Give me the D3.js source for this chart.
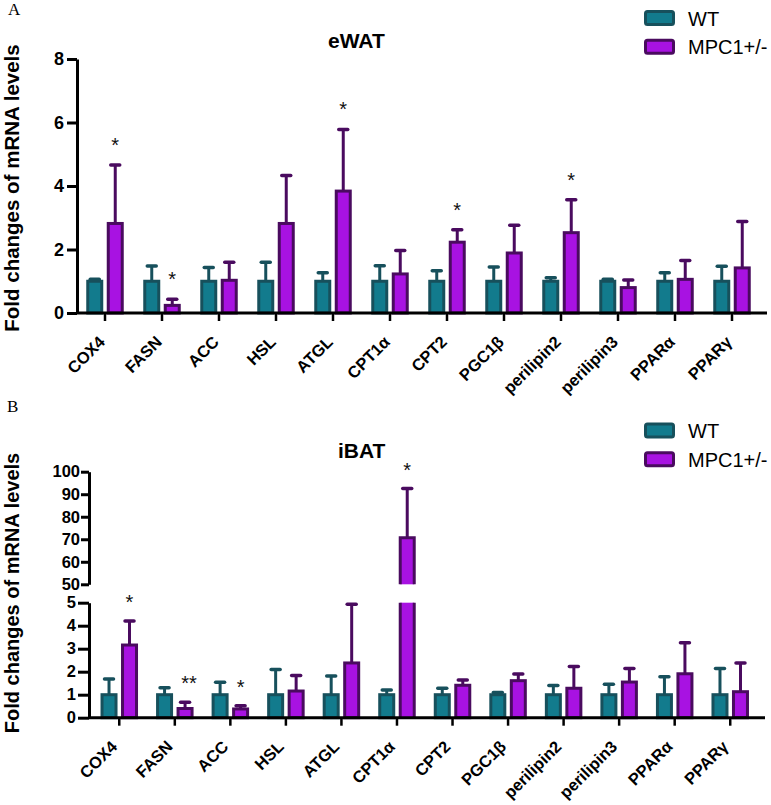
<!DOCTYPE html>
<html><head><meta charset="utf-8">
<script src="https://cdn.jsdelivr.net/npm/d3@7"></script>
<style>body{margin:0;background:#fff} svg{display:block}</style>
</head><body>
<svg id="c" width="771" height="805"></svg>
<script>
// ---------- data ----------
const categories = ["COX4","FASN","ACC","HSL","ATGL","CPT1α","CPT2","PGC1β","perilipin2","perilipin3","PPARα","PPARγ"];
const seriesNames = ["WT","MPC1+/-"];

const ewatWT      = [1.00,1.00,1.00,1.00,1.00,1.00,1.00,1.00,1.00,1.00,1.00,1.00];
const ewatWTErr   = [0.06,0.48,0.43,0.60,0.27,0.49,0.33,0.45,0.11,0.06,0.27,0.47];
const ewatMPC     = [2.82,0.24,1.03,2.82,3.84,1.23,2.23,1.89,2.53,0.80,1.06,1.42];
const ewatMPCErr  = [1.84,0.19,0.57,1.51,1.94,0.74,0.39,0.87,1.04,0.24,0.59,1.46];
const ewatStars   = ["*","*","","","*","","*","","*","","",""];
const ewatTicks   = [0,2,4,6,8];

const ibatWT      = [1.00,1.00,1.00,1.00,1.00,1.00,1.00,1.00,1.00,1.00,1.00,1.00];
const ibatWTErr   = [0.68,0.30,0.54,1.10,0.81,0.20,0.28,0.10,0.40,0.45,0.78,1.14];
const ibatMPC     = [3.16,0.40,0.38,1.16,2.38,70.7,1.41,1.61,1.28,1.55,1.91,1.13];
const ibatMPCErr  = [1.04,0.27,0.14,0.67,2.55,21.8,0.23,0.29,0.95,0.59,1.35,1.25];
const ibatStars   = ["*","**","*","","","*","","","","","",""];
const ibatLowTicks  = [0,1,2,3,4,5];
const ibatHighTicks = [50,60,70,80,90,100];

// ---------- style ----------
const fills   = {"WT":"#127b8d","MPC1+/-":"#a812e2"};
const strokes = {"WT":"#17505c","MPC1+/-":"#4a0b5f"};
const FONT = "'Liberation Sans', Arial, Helvetica, sans-serif";
const svg = d3.select("#c");

function panel(cfg){
  const g = svg.append("g");
  const x = d3.scaleBand().domain(categories).range(cfg.xRange);
  const xi = d3.scaleBand().domain(seriesNames).range([-20.5,20.5]);
  const bw = 14;
  const y = cfg.y;
  const rows = [];
  categories.forEach((c,i)=>{
    rows.push({c, s:"WT", v:cfg.wt[i], e:cfg.wtErr[i]});
    rows.push({c, s:"MPC1+/-", v:cfg.mpc[i], e:cfg.mpcErr[i], star:cfg.stars[i]});
  });
  const cx = d => x(d.c) + x.bandwidth()/2 + xi(d.s) + xi.bandwidth()/2;

  // error bars (upper only)
  const eb = g.append("g");
  eb.selectAll("line.v").data(rows).join("line")
    .attr("x1",cx).attr("x2",cx)
    .attr("y1",d=>y(d.v)).attr("y2",d=>y(d.v+d.e))
    .attr("stroke",d=>strokes[d.s]).attr("stroke-width",3);
  eb.selectAll("line.c").data(rows).join("line")
    .attr("x1",d=>cx(d)-4.5).attr("x2",d=>cx(d)+4.5)
    .attr("y1",d=>y(d.v+d.e)).attr("y2",d=>y(d.v+d.e))
    .attr("stroke",d=>strokes[d.s]).attr("stroke-width",3.5).attr("stroke-linecap","round");

  // bars
  const bars = g.append("g");
  rows.forEach(d=>{
    const x0 = cx(d)-bw/2, x1 = cx(d)+bw/2;
    if (cfg.broken && d.v > cfg.breakLow){
      bars.append("rect").attr("x",x0).attr("width",bw)
        .attr("y",y(cfg.breakLow)).attr("height",y(0)-y(cfg.breakLow)).attr("fill",fills[d.s]);
      bars.append("path").attr("d",`M${x0},${y(0)}V${y(cfg.breakLow)}M${x1},${y(0)}V${y(cfg.breakLow)}`)
        .attr("stroke",strokes[d.s]).attr("stroke-width",3).attr("fill","none");
      bars.append("rect").attr("x",x0).attr("width",bw)
        .attr("y",y(d.v)).attr("height",y(cfg.breakHigh)-y(d.v)).attr("fill",fills[d.s]);
      bars.append("path").attr("d",`M${x0},${y(cfg.breakHigh)}V${y(d.v)}H${x1}V${y(cfg.breakHigh)}`)
        .attr("stroke",strokes[d.s]).attr("stroke-width",3).attr("fill","none");
    } else {
      bars.append("rect").attr("x",x0).attr("width",bw)
        .attr("y",y(d.v)).attr("height",y(0)-y(d.v))
        .attr("fill",fills[d.s]).attr("stroke",strokes[d.s]).attr("stroke-width",3);
    }
  });

  // significance stars
  g.append("g").selectAll("text").data(rows.filter(d=>d.star)).join("text")
    .attr("x",d=>cx(d)+(d.star.length>1?4:0))
    .attr("y",d=>y(d.v+d.e)-cfg.starGap+11)
    .attr("text-anchor","middle")
    .attr("font-family",FONT).attr("font-size",20).attr("fill","#111")
    .text(d=>d.star);

  // x axis
  const y0 = y(0);
  const xa = g.append("g").attr("transform",`translate(0,${y0})`)
    .call(d3.axisBottom(x).tickSize(8).tickSizeOuter(0).tickFormat(""));
  xa.select(".domain").remove();
  xa.selectAll(".tick line").attr("stroke","#000").attr("stroke-width",2.5);
  const lx = c => x(c) + x.bandwidth()/2 + cfg.labelDx;
  const ly = y0 + 30;
  g.append("g").selectAll("text").data(categories).join("text")
    .attr("x",lx).attr("y",ly)
    .attr("text-anchor","end")
    .attr("transform",c=>`rotate(-45,${lx(c)},${ly})`)
    .attr("font-family",FONT).attr("font-weight","bold").attr("font-size",16.5).attr("fill","#000")
    .text(c=>c);
  g.append("line").attr("x1",cfg.yAxisX).attr("x2",cfg.xAxisEnd).attr("y1",y0).attr("y2",y0)
    .attr("stroke","#000").attr("stroke-width",3);
  return {g,x,y};
}

function styleY(sel,size){
  sel.select(".domain").attr("stroke","#000").attr("stroke-width",3);
  sel.selectAll(".tick line").attr("stroke","#000").attr("stroke-width",3);
  sel.selectAll(".tick text").attr("font-family",FONT).attr("font-weight","bold")
    .attr("font-size",size).attr("fill","#000");
}

// ---------- Panel A ----------
const yA = d3.scaleLinear().domain([0,8]).range([313,59]);
panel({xRange:[76.5,760.5], y:yA, wt:ewatWT, wtErr:ewatWTErr, mpc:ewatMPC, mpcErr:ewatMPCErr,
       stars:ewatStars, starGap:24, labelDx:1, yAxisX:77, xAxisEnd:767});
const ayA = svg.append("g").attr("transform","translate(77,0)")
  .call(d3.axisLeft(yA).tickValues(ewatTicks).tickSize(10).tickSizeOuter(0).tickPadding(3).tickFormat(d3.format("d")));
styleY(ayA,18);

// ---------- Panel B (broken y axis) ----------
const yLow  = d3.scaleLinear().domain([0,5]).range([717.7,602.7]);
const yHigh = d3.scaleLinear().domain([50,100]).range([584.3,471.7]);
const yB = v => v <= 5 ? yLow(v) : yHigh(v);
panel({xRange:[91.5,758], y:yB, wt:ibatWT, wtErr:ibatWTErr, mpc:ibatMPC, mpcErr:ibatMPCErr,
       stars:ibatStars, starGap:23, broken:true, breakLow:5, breakHigh:50, labelDx:-1, yAxisX:89, xAxisEnd:765});
const ayB1 = svg.append("g").attr("transform","translate(89,0)")
  .call(d3.axisLeft(yLow).tickValues(ibatLowTicks).tickSize(11).tickSizeOuter(0).tickPadding(2).tickFormat(d3.format("d")));
styleY(ayB1,16.5);
const ayB2 = svg.append("g").attr("transform","translate(89,0)")
  .call(d3.axisLeft(yHigh).tickValues(ibatHighTicks).tickSize(8).tickSizeOuter(0).tickPadding(1).tickFormat(d3.format("d")));
styleY(ayB2,16.5);

// ---------- titles, labels, legends ----------
function txt(x,y,s,opts){
  const t = svg.append("text").attr("x",x).attr("y",y).text(s)
    .attr("font-family",opts.family||FONT).attr("font-size",opts.size)
    .attr("font-weight",opts.weight||"normal").attr("fill",opts.fill||"#000");
  if(opts.anchor) t.attr("text-anchor",opts.anchor);
  if(opts.rotate!==undefined) t.attr("transform",`rotate(${opts.rotate},${x},${y})`);
  return t;
}
txt(8,15,"A",{size:17,family:"'Liberation Serif','Times New Roman',serif"});
txt(7,412,"B",{size:17,family:"'Liberation Serif','Times New Roman',serif"});
txt(328,48,"eWAT",{size:21,weight:"bold"});
txt(338,458,"iBAT",{size:21,weight:"bold"});
txt(19,188,"Fold changes of mRNA levels",{size:20.5,weight:"bold",anchor:"middle",rotate:-90});
txt(19,593,"Fold changes of mRNA levels",{size:20,weight:"bold",anchor:"middle",rotate:-90});

function legend(top){
  const lg = svg.append("g").attr("transform",`translate(644,${top})`);
  seriesNames.forEach((s,i)=>{
    lg.append("rect").attr("x",1.5).attr("y",i*28.7+1.5).attr("width",28).attr("height",13).attr("rx",2)
      .attr("fill",fills[s]).attr("stroke",strokes[s]).attr("stroke-width",3);
    lg.append("text").attr("x",44).attr("y",i*28.7+15.5).text(s)
      .attr("font-family",FONT).attr("font-size",20).attr("fill","#000");
  });
}
legend(10);
legend(422.5);
</script>
</body></html>
